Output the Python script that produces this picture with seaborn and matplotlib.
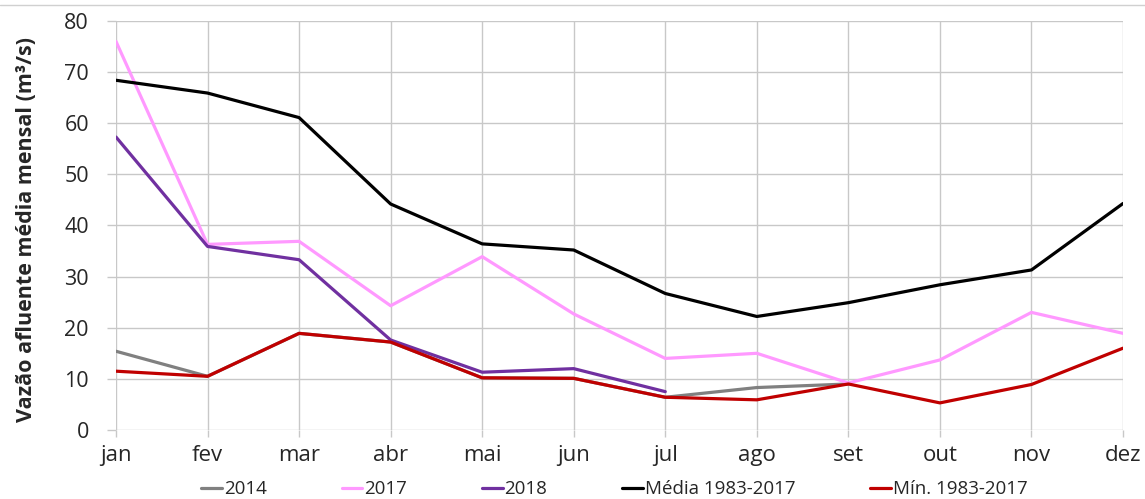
import pandas as pd
import matplotlib
matplotlib.use("Agg")
import matplotlib.pyplot as plt
import seaborn as sns

# Data
months = ["jan", "fev", "mar", "abr", "mai", "jun", "jul", "ago", "set", "out", "nov", "dez"]
y2014 = [15.4, 10.5, 18.9, 17.2, 10.2, 10.1, 6.4, 8.3, 9.0]
y2017 = [76.0, 36.3, 36.9, 24.3, 33.9, 22.7, 14.0, 15.0, 9.2, 13.7, 23.0, 18.9]
y2018 = [57.3, 35.9, 33.3, 17.6, 11.3, 12.0, 7.5]
media = [68.4, 65.9, 61.1, 44.2, 36.4, 35.2, 26.7, 22.2, 24.9, 28.4, 31.3, 44.3]
minimo = [11.5, 10.5, 18.9, 17.2, 10.2, 10.1, 6.4, 5.9, 9.0, 5.3, 8.9, 16.0]

series = [
    ("2014", y2014, "#808080"),
    ("2017", y2017, "#ff99ff"),
    ("2018", y2018, "#7030a0"),
    ("Média 1983-2017", media, "#000000"),
    ("Mín. 1983-2017", minimo, "#c00000"),
]

sns.set_style("white")
plt.rcParams["font.family"] = ["Open Sans", "DejaVu Sans"]

fig = plt.figure(figsize=(11.45, 4.99), dpi=100)
ax = fig.add_axes([0.1013, 0.1383, 0.8795, 0.8197])

for name, vals, color in series:
    df = pd.DataFrame({"mes": range(len(vals)), "vazao": vals})
    sns.lineplot(x="mes", y="vazao", data=df, color=color, label=name,
                 linewidth=2.3, ax=ax)

ax.set_xlim(0, 11)
ax.set_ylim(0, 80)
ax.set_xticks(range(12))
ax.set_xticklabels(months)
ax.set_yticks(range(0, 81, 10))
ax.tick_params(axis="x", labelsize=16, length=5, width=1, color="#c8c8c8",
               pad=6, direction="out", bottom=True)
ax.tick_params(axis="y", labelsize=15.5, length=6.5, width=1, color="#c8c8c8",
               pad=13, direction="out", left=True)
ax.grid(True, color="#c8c8c8", linewidth=1)
for s in ax.spines.values():
    s.set_visible(False)
ax.set_xlabel("")
ax.set_ylabel("Vazão afluente média mensal (m³/s)", fontsize=15.5,
              fontweight="bold")
ax.yaxis.set_label_coords(-0.078, 0.49)

ax.legend(loc="upper center", bbox_to_anchor=(0.495, -0.105), ncol=5,
          frameon=False, fontsize=13.5, handlelength=1.1, handletextpad=0.1,
          columnspacing=4.0, borderaxespad=0)

fig.add_artist(plt.Line2D([0, 1], [0.99, 0.99], color="#d0d0d0", linewidth=1))

plt.savefig("out.png", dpi=100)
